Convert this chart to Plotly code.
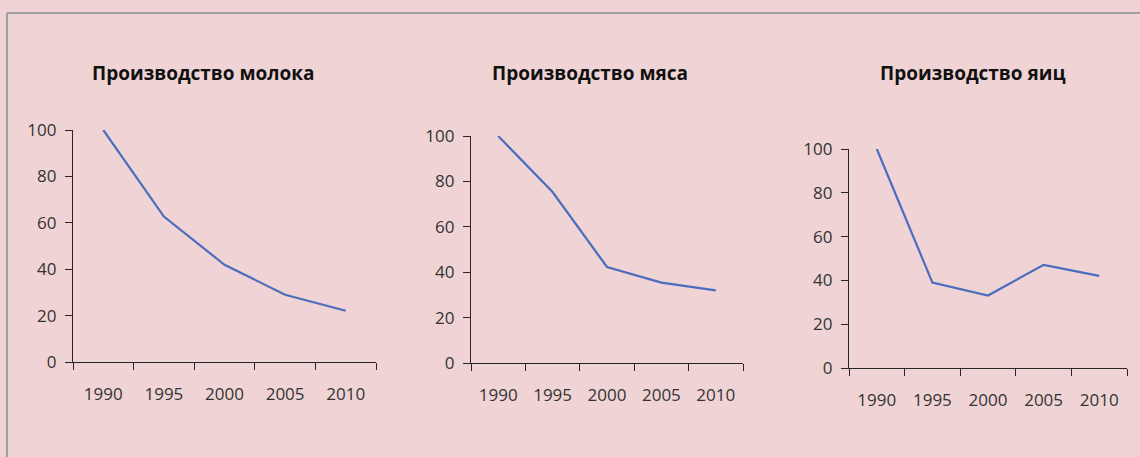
import plotly.graph_objects as go

years = ["1990", "1995", "2000", "2005", "2010"]
milk = [100, 62.7, 41.9, 29.0, 22.1]
meat = [100, 75.3, 42.3, 35.4, 32.0]
eggs = [100, 39.0, 33.1, 47.1, 42.1]
titles = ["Производство молока", "Производство мяса", "Производство яиц"]
y_ticks = [0, 20, 40, 60, 80, 100]

W, H = 1140, 457
BG = "#F0D3D4"
LINE = "#4A6DBD"
AX = "#262626"
FONT = "Open Sans"

# pixel boxes (left, right, top, bottom) for the three plot areas
boxes = [(73, 376, 130, 362), (471, 743, 136, 363), (849, 1127, 149, 368)]
title_pos = [(203, 73), (590, 73), (972, 73)]
series = [milk, meat, eggs]

fig = go.Figure()
for i, (vals, box) in enumerate(zip(series, boxes)):
    n = "" if i == 0 else str(i + 1)
    fig.add_trace(go.Scatter(
        x=years, y=vals, mode="lines",
        line=dict(color=LINE, width=2.2),
        xaxis="x" + n, yaxis="y" + n, showlegend=False, hoverinfo="x+y",
    ))
    l, r, t, b = box
    fig.layout["xaxis" + n] = dict(
        domain=[l / W, r / W], anchor="y" + n, type="category",
        range=[-0.5, 4.5], tickson="boundaries", ticks="outside", ticklen=7,
        tickcolor=AX, showline=True, linecolor=AX, linewidth=1.2,
        showgrid=False, zeroline=False, ticklabelstandoff=16,
        automargin=False,
        tickfont=dict(family=FONT, size=17, color="#333333"),
    )
    fig.layout["yaxis" + n] = dict(
        domain=[1 - b / H, 1 - t / H], anchor="x" + n,
        range=[0, 100], tickvals=y_ticks, ticks="outside", ticklen=7,
        tickcolor=AX, showline=True, linecolor=AX, linewidth=1.2,
        showgrid=False, zeroline=False, automargin=False,
        ticklabelstandoff=5,
        tickfont=dict(family=FONT, size=17, color="#333333"),
    )
    tx, ty = title_pos[i]
    fig.add_annotation(
        x=tx / W, y=1 - ty / H, xref="paper", yref="paper",
        text="<b>" + titles[i] + "</b>", showarrow=False,
        xanchor="center", yanchor="middle",
        font=dict(family=FONT, size=19, color="#111111"),
    )

# frame: only the top and left edges are visible in the picture
fig.add_shape(type="line", xref="paper", yref="paper",
              x0=7 / W, x1=1, y0=1 - 13 / H, y1=1 - 13 / H,
              line=dict(color="#A0A0A0", width=2))
fig.add_shape(type="line", xref="paper", yref="paper",
              x0=7 / W, x1=7 / W, y0=0, y1=1 - 13 / H,
              line=dict(color="#A0A0A0", width=2))

fig.update_layout(
    width=W, height=H, margin=dict(l=0, r=0, t=0, b=0, autoexpand=False),
    paper_bgcolor=BG, plot_bgcolor=BG,
)
fig.write_html(
    "out.html",
    config={"displayModeBar": False},
    post_script="document.body.style.margin='0';document.body.style.overflow='hidden';",
)
